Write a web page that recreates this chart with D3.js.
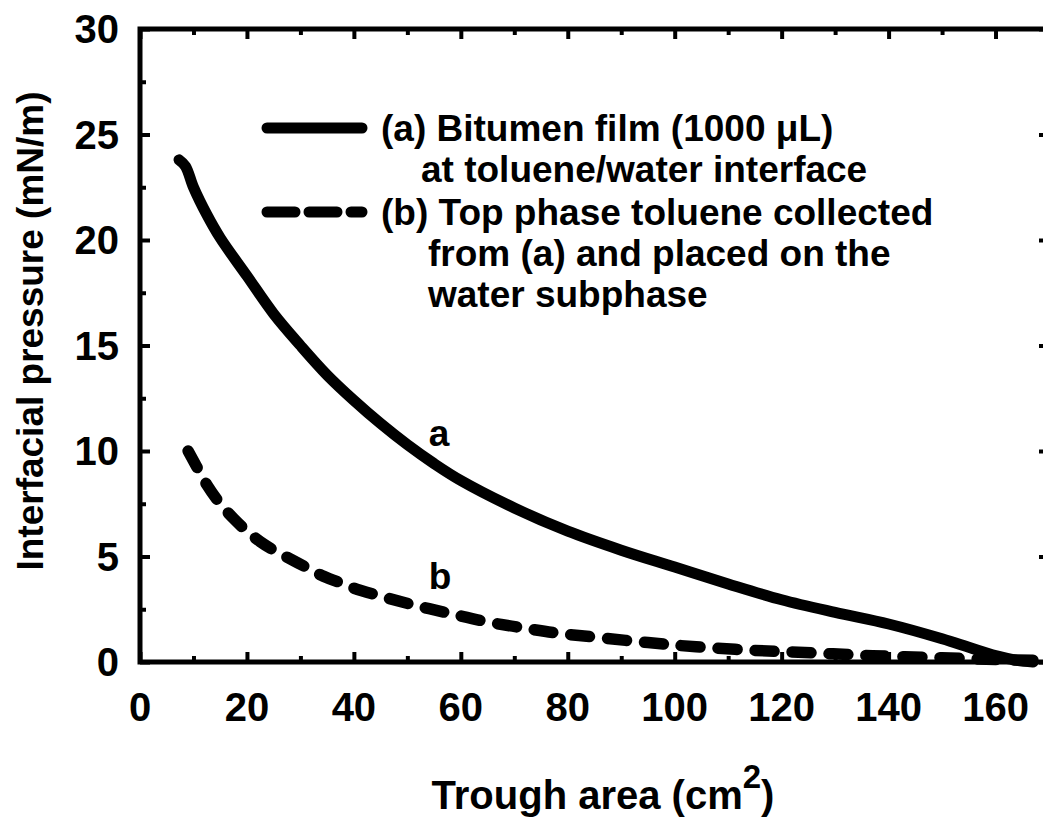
<!DOCTYPE html>
<html>
<head>
<meta charset="utf-8">
<script src="https://cdn.jsdelivr.net/npm/d3@7"></script>
<style>
  body { margin: 0; background: #fff; }
  svg { font-family: "Liberation Sans", Arial, sans-serif; font-weight: bold; }
</style>
</head>
<body>
<svg id="chart" width="1043" height="819"></svg>
<script>
// curve (a): bitumen film at toluene/water interface
const areaA = [7.3, 8.5, 10, 12.5, 15, 20, 25, 30, 35, 40, 45, 50, 55, 60, 70, 80, 90, 100, 110, 120, 130, 140, 150, 155, 160, 164, 167];
const pressA = [23.8, 23.5, 22.5, 21.2, 20.1, 18.3, 16.5, 15.0, 13.6, 12.4, 11.3, 10.3, 9.4, 8.6, 7.3, 6.2, 5.3, 4.5, 3.7, 2.95, 2.35, 1.8, 1.1, 0.7, 0.3, 0.08, 0.0];

// curve (b): top phase toluene on water subphase
const areaB = [9.0, 10.5, 12.5, 15, 17.5, 20, 22.5, 25, 28, 31, 34, 37, 40, 46, 52, 58, 65, 72, 78, 85, 95, 104, 115, 126, 137, 150, 160, 167];
const pressB = [10.0, 9.3, 8.4, 7.5, 6.8, 6.2, 5.7, 5.3, 4.9, 4.5, 4.1, 3.8, 3.5, 3.05, 2.65, 2.3, 1.9, 1.6, 1.37, 1.18, 0.92, 0.72, 0.55, 0.43, 0.3, 0.2, 0.12, 0.08];

const xTicks = [0, 20, 40, 60, 80, 100, 120, 140, 160];
const xMinor = [10, 30, 50, 70, 90, 110, 130, 150, 170];
const yTicks = [0, 5, 10, 15, 20, 25, 30];
const yMinor = [2.5, 7.5, 12.5, 17.5, 22.5, 27.5];

const legendA = ["(a) Bitumen film (1000 \u03BCL)", "at toluene/water interface"];
const legendB = ["(b) Top phase toluene collected", "from (a) and placed on the", "water subphase"];

const svg = d3.select("#chart");

const x = d3.scaleLinear().domain([0, 170]).range([140, 1049]);
const y = d3.scaleLinear().domain([0, 30]).range([662, 29]);

const toPts = (xs, ys) => xs.map((v, i) => [v, ys[i]]);

// inward ticks on all four sides
function tickAxis(axisFn, scale, values, size, transform) {
    const g = svg.append("g")
        .attr("transform", transform)
        .call(axisFn(scale).tickValues(values).tickSize(-size).tickFormat(""));
    g.select(".domain").remove();
    g.selectAll("line").attr("stroke", "#000").attr("stroke-width", 4);
    return g;
}
tickAxis(d3.axisBottom, x, xTicks, 10, "translate(0,662)");
tickAxis(d3.axisBottom, x, xMinor, 6, "translate(0,662)");
tickAxis(d3.axisTop, x, xTicks, 10, "translate(0,29)");
tickAxis(d3.axisTop, x, xMinor, 6, "translate(0,29)");
tickAxis(d3.axisLeft, y, yTicks, 10, "translate(140,0)");
tickAxis(d3.axisLeft, y, yMinor, 6, "translate(140,0)");
tickAxis(d3.axisRight, y, yTicks, 10, "translate(1049,0)");
tickAxis(d3.axisRight, y, yMinor, 6, "translate(1049,0)");

// frame
svg.append("rect")
    .attr("x", x(0)).attr("y", y(30))
    .attr("width", x(170) - x(0)).attr("height", y(0) - y(30))
    .attr("fill", "none").attr("stroke", "#000").attr("stroke-width", 5);

// tick labels
svg.append("g").selectAll("text").data(xTicks).join("text")
    .attr("x", d => x(d)).attr("y", 721)
    .attr("text-anchor", "middle").attr("font-size", 40)
    .text(d => d);
svg.append("g").selectAll("text").data(yTicks).join("text")
    .attr("x", 119).attr("y", d => y(d)).attr("dy", "0.36em")
    .attr("text-anchor", "end").attr("font-size", 40)
    .text(d => d);

// axis titles
const xt = svg.append("text")
    .attr("x", 603).attr("y", 809)
    .attr("text-anchor", "middle").attr("font-size", 40);
xt.append("tspan").text("Trough area (cm");
xt.append("tspan").attr("font-size", 33).attr("dy", -21).text("2");
xt.append("tspan").attr("dy", 21).text(")");

svg.append("text")
    .attr("transform", "translate(43,331) rotate(-90)")
    .attr("text-anchor", "middle").attr("font-size", 37)
    .text("Interfacial pressure (mN/m)");

// curves
const line = d3.line().x(d => x(d[0])).y(d => y(d[1])).curve(d3.curveCatmullRom);

svg.append("path")
    .attr("d", line(toPts(areaA, pressA)))
    .attr("fill", "none").attr("stroke", "#000")
    .attr("stroke-width", 11).attr("stroke-linecap", "round").attr("stroke-linejoin", "round");

svg.append("path")
    .attr("d", line(toPts(areaB, pressB)))
    .attr("fill", "none").attr("stroke", "#000")
    .attr("stroke-width", 11.5).attr("stroke-linecap", "round")
    .attr("stroke-dasharray", "19,18");

// curve labels
svg.append("text").attr("x", 439).attr("y", 446)
    .attr("text-anchor", "middle").attr("font-size", 37).text("a");
svg.append("text").attr("x", 440).attr("y", 589)
    .attr("text-anchor", "middle").attr("font-size", 37).text("b");

// legend
svg.append("line")
    .attr("x1", 267).attr("x2", 362).attr("y1", 128).attr("y2", 128)
    .attr("stroke", "#000").attr("stroke-width", 11).attr("stroke-linecap", "round");
svg.append("line")
    .attr("x1", 267).attr("x2", 362).attr("y1", 212).attr("y2", 212)
    .attr("stroke", "#000").attr("stroke-width", 11).attr("stroke-linecap", "round")
    .attr("stroke-dasharray", "28,14");

svg.append("g").selectAll("text").data(legendA).join("text")
    .attr("x", (d, i) => i === 0 ? 381 : 421)
    .attr("y", (d, i) => 141 + i * 41)
    .attr("font-size", 37)
    .text(d => d);
svg.append("g").selectAll("text").data(legendB).join("text")
    .attr("x", (d, i) => i === 0 ? 381 : 428)
    .attr("y", (d, i) => 225 + i * 41)
    .attr("font-size", 37)
    .text(d => d);
</script>
</body>
</html>
